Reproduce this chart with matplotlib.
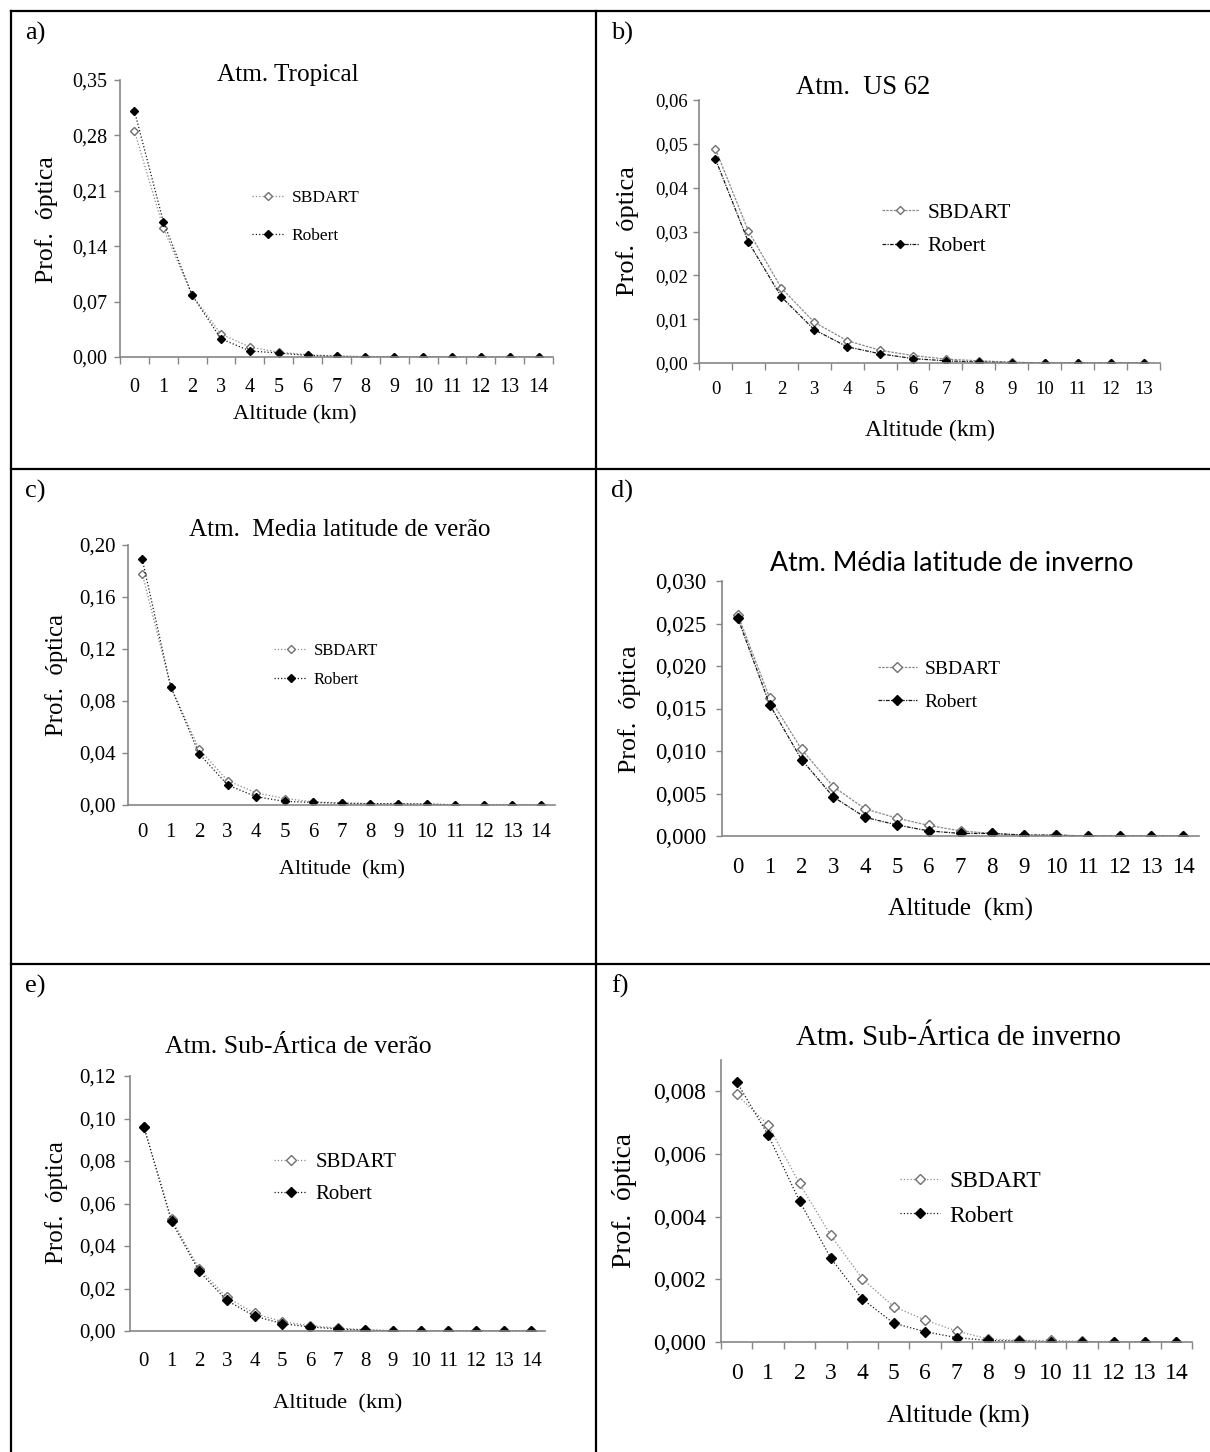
import numpy as np
import matplotlib
matplotlib.use("Agg")
import matplotlib.pyplot as plt
from matplotlib.lines import Line2D
from matplotlib.ticker import FuncFormatter

plt.rcParams["font.family"] = ["Liberation Serif", "DejaVu Serif"]

# ---- data ----
km_0_14 = [0, 1, 2, 3, 4, 5, 6, 7, 8, 9, 10, 11, 12, 13, 14]
km_0_13 = [0, 1, 2, 3, 4, 5, 6, 7, 8, 9, 10, 11, 12, 13]

trop_sbdart = [0.2856, 0.163, 0.078, 0.029, 0.0126, 0.006, 0.003, 0.0012, 0.0004, 0.0002, 0.0001, 0, 0, 0, 0]
trop_robert = [0.311, 0.171, 0.078, 0.023, 0.0076, 0.005, 0.002, 0.001, 0.0003, 0.0001, 0, 0, 0, 0, 0]

us62_sbdart = [0.0488, 0.0301, 0.0171, 0.0093, 0.0051, 0.0029, 0.0017, 0.0009, 0.0005, 0.0002, 0, 0, 0, 0]
us62_robert = [0.0465, 0.0276, 0.0151, 0.0076, 0.0037, 0.0021, 0.0010, 0.0005, 0.0002, 0.0001, 0, 0, 0, 0]

mlv_sbdart = [0.178, 0.091, 0.043, 0.0187, 0.0094, 0.005, 0.0025, 0.0016, 0.0011, 0.001, 0.0008, 0.0002, 0, 0, 0]
mlv_robert = [0.189, 0.091, 0.0394, 0.0154, 0.0064, 0.0028, 0.002, 0.0013, 0.001, 0.0009, 0.0007, 0.0001, 0, 0, 0]

mli_sbdart = [0.0260, 0.01624, 0.0102, 0.0058, 0.0032, 0.0021, 0.00125, 0.0006, 0.0003, 0.0001, 0.0001, 0, 0, 0, 0]
mli_robert = [0.0256, 0.01545, 0.0090, 0.0046, 0.0022, 0.0013, 0.0006, 0.0003, 0.0003, 0.0001, 0.0001, 0, 0, 0, 0]

sav_sbdart = [0.0961, 0.0527, 0.0293, 0.0159, 0.0083, 0.0044, 0.0025, 0.0014, 0.0006, 0.0002, 0, 0, 0, 0, 0]
sav_robert = [0.0961, 0.0516, 0.0281, 0.0144, 0.0070, 0.0035, 0.0019, 0.0010, 0.0004, 0.0001, 0, 0, 0, 0, 0]

sai_sbdart = [0.00790, 0.00693, 0.00506, 0.00340, 0.00202, 0.00113, 0.00070, 0.00035, 0.00010, 0.00005, 0.00005, 0.00002, 0, 0, 0]
sai_robert = [0.00830, 0.00661, 0.00450, 0.00267, 0.00137, 0.00060, 0.00033, 0.00014, 0.00005, 0.00003, 0.00001, 0, 0, 0, 0]

W, H = 1210, 1452
fig = plt.figure(figsize=(W / 100, H / 100), dpi=100)


def px_axes(left, top, right, bottom):
    return fig.add_axes([left / W, 1 - bottom / H, (right - left) / W, (bottom - top) / H])


def fx(x):
    return x / W


def fy(y):
    return 1 - y / H


# table borders
for x in (11, 596):
    fig.add_artist(Line2D([fx(x), fx(x)], [fy(11), fy(H)], color="black", lw=1.6))
for y in (11, 469, 964):
    fig.add_artist(Line2D([fx(11), fx(W)], [fy(y), fy(y)], color="black", lw=1.6))

panels = [
    dict(tag="a)", tagpos=(25, 33), x=km_0_14, s=trop_sbdart, r=trop_robert,
         box=(120, 80, 553, 357), ylim=0.35, yticks=[0, 0.07, 0.14, 0.21, 0.28, 0.35], dec=2,
         title="Atm. Tropical", tpos=(288, 75), tfs=18.2, tfam=None,
         xl="Altitude (km)", xlpos=(295, 415), xlfs=16.2,
         yl="Prof.  óptica", ylpos=(47, 220), ylfs=18.5,
         tickfs=14.5, xpad=15, ypad=5, xminor=True,
         leg=(252, 217), legfs=12.5, lspace=1.3, hlen=1.9, ms=5.0,
         ls_s=":", ls_r=":"),
    dict(tag="b)", tagpos=(611, 33), x=km_0_13, s=us62_sbdart, r=us62_robert,
         box=(699, 100, 1160, 363), ylim=0.06, yticks=[0, 0.01, 0.02, 0.03, 0.04, 0.05, 0.06], dec=2,
         title="Atm.  US 62", tpos=(863, 87), tfs=19.2, tfam=None,
         xl="Altitude (km)", xlpos=(930, 430), xlfs=17.2,
         yl="Prof.  óptica", ylpos=(628, 231), ylfs=19.0,
         tickfs=13.5, xpad=13, ypad=4, xminor=True,
         leg=(882, 229.5), legfs=15.5, lspace=0.63, hlen=1.7, ms=5.5,
         ls_s=(0, (2, 1)), ls_r=(0, (3, 1, 1, 1))),
    dict(tag="c)", tagpos=(25, 491), x=km_0_14, s=mlv_sbdart, r=mlv_robert,
         box=(128, 545, 555, 805), ylim=0.20, yticks=[0, 0.04, 0.08, 0.12, 0.16, 0.20], dec=2,
         title="Atm.  Media latitude de verão", tpos=(340, 530), tfs=18.1, tfam=None,
         xl="Altitude  (km)", xlpos=(342, 870), xlfs=15.9,
         yl="Prof.  óptica", ylpos=(57, 675), ylfs=17.8,
         tickfs=15, xpad=13, ypad=5, xminor=False,
         leg=(274, 665.5), legfs=12, lspace=0.74, hlen=2.0, ms=5.0,
         ls_s=":", ls_r=":"),
    dict(tag="d)", tagpos=(611, 491), x=km_0_14, s=mli_sbdart, r=mli_robert,
         box=(722, 581, 1199, 836), ylim=0.030, yticks=[0, 0.005, 0.010, 0.015, 0.020, 0.025, 0.030], dec=3,
         title="Atm. Média latitude de inverno", tpos=(952, 563), tfs=19.2, tfam="Lato",
         xl="Altitude  (km)", xlpos=(961, 909), xlfs=18.3,
         yl="Prof.  óptica", ylpos=(630, 709), ylfs=18.7,
         tickfs=16.5, xpad=15, ypad=7, xminor=False,
         leg=(878, 685.5), legfs=14, lspace=0.8, hlen=2.0, ms=6.0,
         ls_s=(0, (2, 1)), ls_r=(0, (3, 1, 1, 1))),
    dict(tag="e)", tagpos=(25, 986), x=km_0_14, s=sav_sbdart, r=sav_robert,
         box=(130, 1076, 545, 1331), ylim=0.12, yticks=[0, 0.02, 0.04, 0.06, 0.08, 0.10, 0.12], dec=2,
         title="Atm. Sub-Ártica de verão", tpos=(298, 1047), tfs=18.5, tfam=None,
         xl="Altitude  (km)", xlpos=(338, 1404), xlfs=16.2,
         yl="Prof.  óptica", ylpos=(57, 1203), ylfs=18.0,
         tickfs=15, xpad=15, ypad=6, xminor=False,
         leg=(274, 1178.5), legfs=15, lspace=0.59, hlen=1.6, ms=6.0,
         ls_s=":", ls_r=":"),
    dict(tag="f)", tagpos=(611, 986), x=km_0_14, s=sai_sbdart, r=sai_robert,
         box=(721, 1060, 1192, 1342), ylim=0.009, yticks=[0, 0.002, 0.004, 0.006, 0.008], dec=3,
         title="Atm. Sub-Ártica de inverno", tpos=(959, 1038), tfs=21.0, tfam=None,
         xl="Altitude (km)", xlpos=(958, 1416), xlfs=18.7,
         yl="Prof.  óptica", ylpos=(625, 1201), ylfs=19.8,
         tickfs=17, xpad=15, ypad=7, xminor=True,
         leg=(900, 1198.5), legfs=17, lspace=0.57, hlen=1.7, ms=7.0,
         ls_s=":", ls_r=":"),
]

for p in panels:
    ax = px_axes(*p["box"])
    n = len(p["x"])
    ax.plot(p["x"], p["s"], linestyle=p["ls_s"], color="#8a8a8a", lw=0.9,
            marker="D", ms=p["ms"] * 0.8, mfc="white", mec="#707070", mew=1.0, label="SBDART")
    ax.plot(p["x"], p["r"], linestyle=p["ls_r"], color="#1a1a1a", lw=0.9,
            marker="D", ms=p["ms"] * 0.8, mfc="black", mec="black", label="Robert")

    ax.set_xlim(-0.5, n - 0.5)
    ax.set_ylim(0, p["ylim"])
    ax.set_xticks(p["x"])
    ax.set_yticks(p["yticks"])
    dec = p["dec"]
    ax.yaxis.set_major_formatter(FuncFormatter(lambda v, pos, d=dec: f"{v:.{d}f}".replace(".", ",")))

    for side in ("top", "right"):
        ax.spines[side].set_visible(False)
    for side in ("left", "bottom"):
        ax.spines[side].set_color("#868686")
        ax.spines[side].set_linewidth(1.2)

    ax.tick_params(axis="x", which="major", length=0, pad=p["xpad"], labelsize=p["tickfs"])
    ax.tick_params(axis="y", which="major", length=4, width=1, color="#868686",
                   pad=p["ypad"], labelsize=p["tickfs"])
    if p["xminor"]:
        ax.set_xticks(np.arange(-0.5, n, 1.0), minor=True)
        ax.tick_params(axis="x", which="minor", length=5, width=1, color="#868686")
    ax.patch.set_alpha(0)

    ax.legend(loc="center left", bbox_to_anchor=(fx(p["leg"][0]), fy(p["leg"][1])),
              bbox_transform=fig.transFigure, frameon=False, fontsize=p["legfs"],
              handlelength=p["hlen"], handletextpad=0.4, labelspacing=p["lspace"],
              borderpad=0, borderaxespad=0, numpoints=1)

    tkw = {}
    if p["tfam"]:
        tkw["family"] = [p["tfam"], "DejaVu Sans"]
    fig.text(fx(p["tpos"][0]), fy(p["tpos"][1]), p["title"], ha="center", va="center",
             fontsize=p["tfs"], **tkw)
    fig.text(fx(p["xlpos"][0]), fy(p["xlpos"][1]), p["xl"], ha="center", va="center",
             fontsize=p["xlfs"])
    fig.text(fx(p["ylpos"][0]), fy(p["ylpos"][1]), p["yl"], ha="center", va="center",
             rotation=90, fontsize=p["ylfs"])
    fig.text(fx(p["tagpos"][0]), fy(p["tagpos"][1]), p["tag"], ha="left", va="center",
             fontsize=19)

fig.savefig("out.png", dpi=100, facecolor="white")
